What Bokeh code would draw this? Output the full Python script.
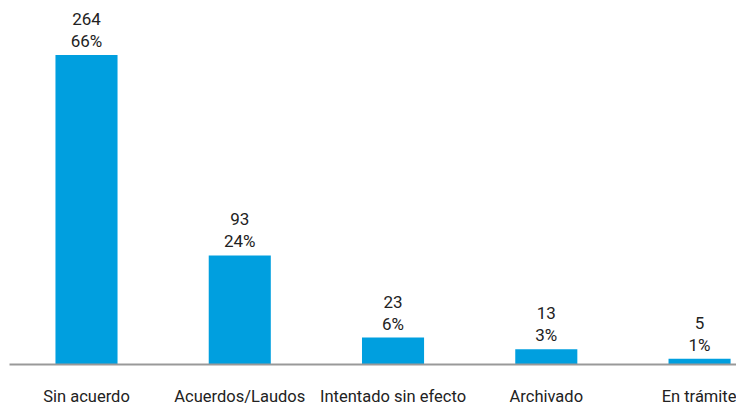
from bokeh.plotting import figure
from bokeh.models import ColumnDataSource, Range1d, FixedTicker
from bokeh.core.properties import value
from bokeh.embed import file_html
from bokeh.resources import INLINE

categories = ["Sin acuerdo", "Acuerdos/Laudos", "Intentado sin efecto", "Archivado", "En trámite"]
counts = [264, 93, 23, 13, 5]
percents = ["66%", "24%", "6%", "3%", "1%"]

xs = list(range(len(categories)))
src = ColumnDataSource(dict(
    x=xs, top=counts,
    count_lbl=[str(c) for c in counts],
    pct_lbl=percents,
))

p = figure(width=736, height=408, output_backend="svg", toolbar_location=None,
           x_range=Range1d(-0.5024, 4.241), y_range=Range1d(0, 303.6),
           min_border_left=9, min_border_right=0, min_border_top=8, min_border_bottom=40)
p.outline_line_color = None
p.xgrid.visible = False
p.ygrid.visible = False
p.yaxis.visible = False

p.vbar(x="x", top="top", bottom=0, width=0.405, source=src,
       fill_color="#009FDF", line_color=None)

font = value("Roboto")
p.text(x="x", y="top", text="pct_lbl", source=src, y_offset=-14,
       text_align="center", text_baseline="alphabetic",
       text_font=font, text_font_size="17px", text_color="#222222")
p.text(x="x", y="top", text="count_lbl", source=src, y_offset=-36,
       text_align="center", text_baseline="alphabetic",
       text_font=font, text_font_size="17px", text_color="#222222")

ax = p.xaxis[0]
ax.ticker = FixedTicker(ticks=xs)
ax.major_label_overrides = {i: c for i, c in zip(xs, categories)}
ax.major_tick_line_color = None
ax.minor_tick_line_color = None
ax.axis_line_color = "#999999"
ax.axis_line_width = 2
ax.major_label_standoff = 16
ax.major_label_text_font = "Roboto"
ax.major_label_text_font_size = "16.5px"
ax.major_label_text_color = "#222222"

open("out.html", "w").write(file_html(p, INLINE))
